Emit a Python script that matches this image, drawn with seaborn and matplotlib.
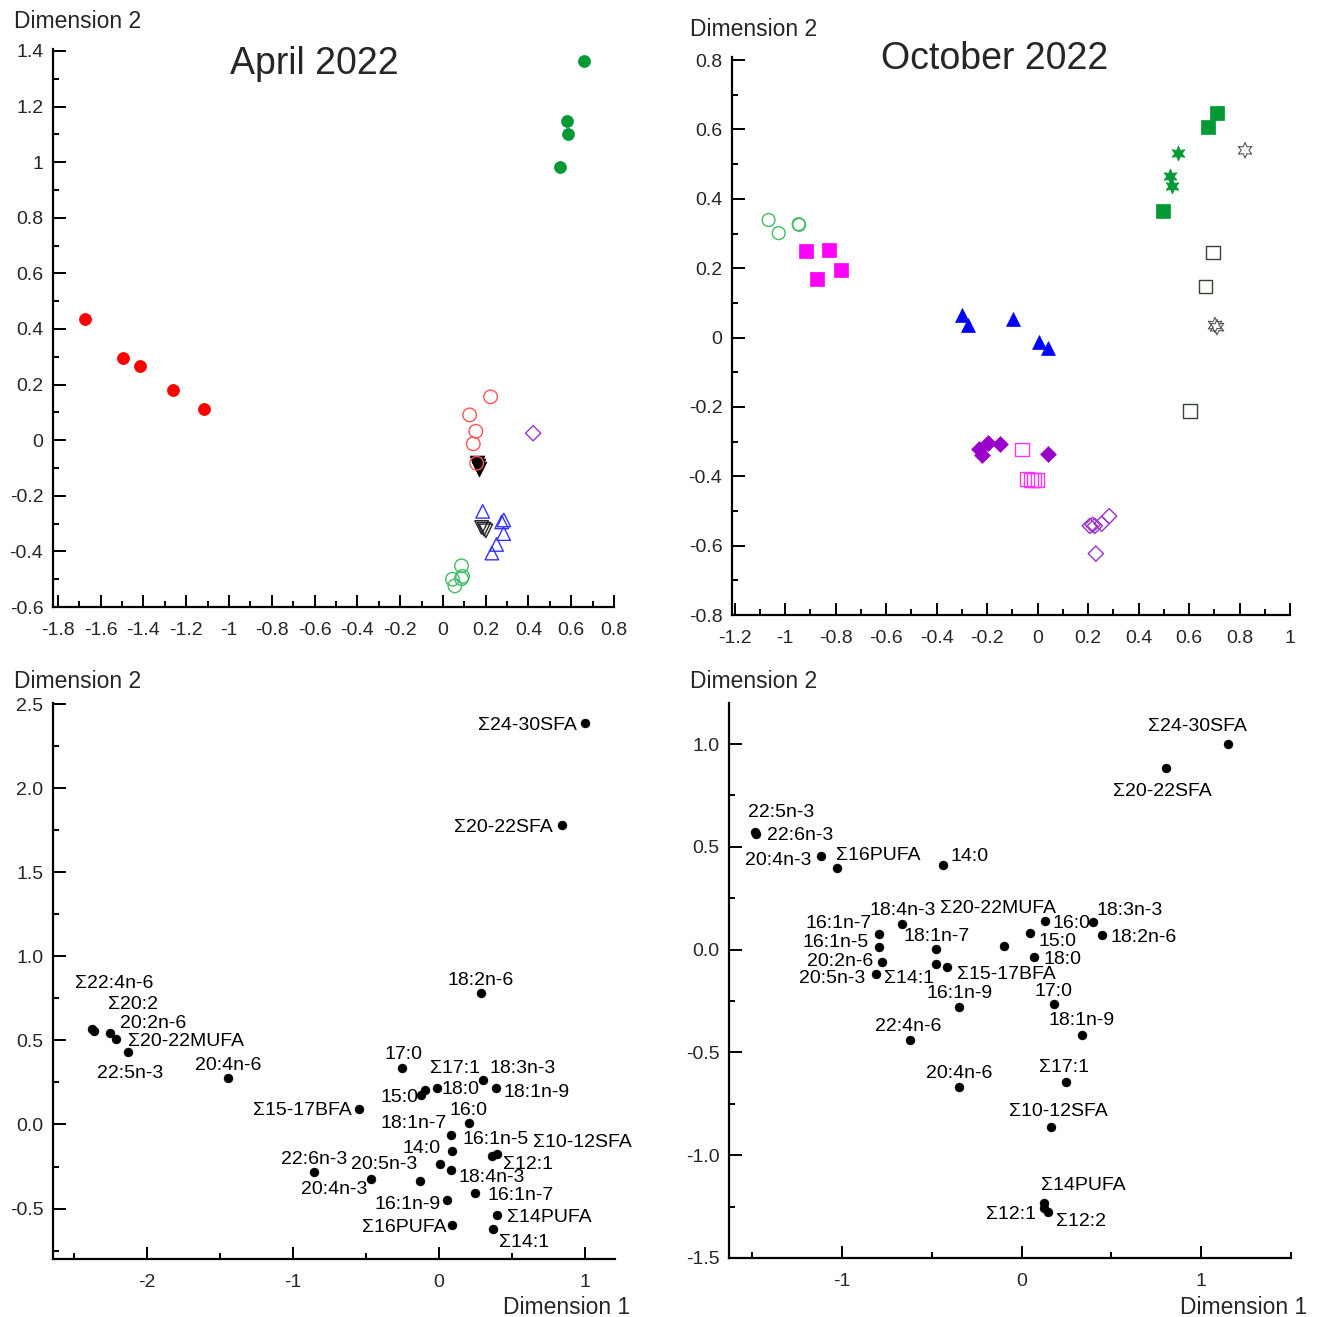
import numpy as np
import pandas as pd
import matplotlib
matplotlib.use("Agg")
import matplotlib.pyplot as plt
from matplotlib.ticker import MultipleLocator, FuncFormatter
import seaborn as sns

# ---------------- data: April 2022 (samples) ----------------
apr_red_x = [-1.674, -1.497, -1.417, -1.263, -1.118]
apr_red_y = [0.435, 0.295, 0.266, 0.180, 0.112]
apr_green_x = [0.659, 0.580, 0.585, 0.547]
apr_green_y = [1.363, 1.147, 1.101, 0.982]
apr_lred_x = [0.223, 0.125, 0.154, 0.142, 0.158]
apr_lred_y = [0.156, 0.091, 0.032, -0.013, -0.083]
apr_blk_tri_x = [0.158, 0.165, 0.168]
apr_blk_tri_y = [-0.083, -0.092, -0.104]
apr_purple_x = [0.422]
apr_purple_y = [0.025]
apr_blue_x = [0.186, 0.285, 0.275, 0.284, 0.251, 0.229]
apr_blue_y = [-0.256, -0.287, -0.294, -0.336, -0.375, -0.406]
apr_blk_open_x = [0.181, 0.192, 0.201]
apr_blk_open_y = [-0.314, -0.320, -0.326]
apr_lgreen_x = [0.087, 0.092, 0.045, 0.087, 0.056]
apr_lgreen_y = [-0.452, -0.490, -0.500, -0.498, -0.524]

# ---------------- data: October 2022 (samples) ----------------
oct_gsq_x = [0.711, 0.675, 0.497]
oct_gsq_y = [0.647, 0.606, 0.366]
oct_gstar_x = [0.556, 0.525, 0.533]
oct_gstar_y = [0.532, 0.465, 0.436]
oct_ostar_x = [0.822, 0.703, 0.711]
oct_ostar_y = [0.540, 0.036, 0.030]
oct_osq_x = [0.695, 0.664, 0.604]
oct_osq_y = [0.246, 0.148, -0.212]
oct_lgreen_x = [-1.065, -1.025, -0.946, -0.944]
oct_lgreen_y = [0.339, 0.301, 0.327, 0.325]
oct_msq_x = [-0.915, -0.824, -0.872, -0.777]
oct_msq_y = [0.249, 0.252, 0.169, 0.195]
oct_blue_x = [-0.300, -0.277, -0.097, 0.005, 0.041]
oct_blue_y = [0.065, 0.036, 0.053, -0.013, -0.030]
oct_pdia_x = [-0.233, -0.221, -0.198, -0.147, 0.040]
oct_pdia_y = [-0.322, -0.340, -0.303, -0.306, -0.335]
oct_mosq_x = [-0.062, -0.042, -0.026, -0.013, 0.000]
oct_mosq_y = [-0.323, -0.408, -0.410, -0.410, -0.410]
oct_podia_x = [0.207, 0.218, 0.227, 0.254, 0.284, 0.231]
oct_podia_y = [-0.543, -0.540, -0.543, -0.537, -0.515, -0.623]

# ---------------- data: April 2022 (fatty acids) ----------------
fa3_names = ["Σ24-30SFA", "Σ20-22SFA", "18:2n-6", "Σ22:4n-6", "Σ20:2", "20:2n-6",
             "Σ20-22MUFA", "22:5n-3", "20:4n-6", "17:0", "Σ17:1", "18:3n-3", "18:1n-9",
             "18:0", "15:0", "Σ15-17BFA", "16:0", "18:1n-7", "16:1n-5", "14:0",
             "Σ10-12SFA", "Σ12:1", "20:5n-3", "22:6n-3", "18:4n-3", "20:4n-3",
             "16:1n-7", "16:1n-9", "Σ14PUFA", "Σ16PUFA", "Σ14:1"]
fa3_x = [1.000, 0.842, 0.288, -2.375, -2.363, -2.253, -2.214, -2.128, -1.447, -0.251,
         -0.094, 0.300, 0.390, -0.015, -0.123, -0.548, 0.205, 0.080, 0.091, 0.007,
         0.395, 0.365, -0.130, -0.856, 0.082, -0.466, 0.247, 0.057, 0.395, 0.091, 0.372]
fa3_y = [2.387, 1.780, 0.780, 0.570, 0.557, 0.543, 0.508, 0.430, 0.274, 0.337,
         0.202, 0.266, 0.216, 0.216, 0.177, 0.093, 0.008, -0.060, -0.159, -0.234,
         -0.175, -0.190, -0.337, -0.280, -0.268, -0.323, -0.405, -0.452, -0.538, -0.597, -0.621]

# ---------------- data: October 2022 (fatty acids) ----------------
fa4_names = ["Σ24-30SFA", "Σ20-22SFA", "22:5n-3", "22:6n-3", "20:4n-3", "Σ16PUFA", "14:0",
             "18:4n-3", "Σ20-22MUFA", "16:1n-7", "18:1n-7", "16:0", "18:3n-3", "18:2n-6",
             "15:0", "16:1n-5", "18:0", "20:2n-6", "Σ15-17BFA", "Σ14:1", "20:5n-3",
             "16:1n-9", "17:0", "22:4n-6", "18:1n-9", "20:4n-6", "Σ17:1", "Σ10-12SFA",
             "Σ14PUFA", "Σ12:1", "Σ12:2"]
fa4_x = [1.148, 0.802, -1.487, -1.478, -1.120, -1.027, -0.438, -0.667, -0.100, -0.797,
         -0.475, 0.132, 0.397, 0.449, 0.045, -0.795, 0.071, -0.778, -0.416, -0.475,
         -0.813, -0.349, 0.180, -0.624, 0.334, -0.349, 0.249, 0.162, 0.123, 0.123, 0.145]
fa4_y = [1.002, 0.885, 0.571, 0.563, 0.457, 0.396, 0.412, 0.123, 0.019, 0.078,
         0.003, 0.141, 0.135, 0.071, 0.081, 0.013, -0.037, -0.062, -0.084, -0.068,
         -0.117, -0.281, -0.263, -0.441, -0.413, -0.670, -0.645, -0.861, -1.230, -1.255, -1.274]

# label placement (alignment, offset in pixels)
fa3_ha = ["right", "right", "center", "left", "left", "left", "left", "center", "center",
          "center", "left", "left", "left", "left", "right", "right", "center", "right",
          "left", "right", "left", "left", "right", "center", "left", "right", "left",
          "right", "left", "right", "left"]
fa3_dx = [-8, -9, 0, -17, 14, 10, 12, 2, 0, 1, 5, 7, 7, 5, -3, -7, 0, -4, 10, 1, 36, 11,
          -3, 0, 7, -4, 12, -7, 10, -6, 6]
fa3_dy = [0, 0, 15, 47, 28, 12, 0, -19, 15, 15, 24, 13, -2, 1, -1, 0, 15, 13, 14, 17, 13,
          -6, 19, 14, -6, -9, -1, -2, -1, -1, -12]
fa4_ha = ["center", "center", "left", "left", "right", "left", "left", "center", "center",
          "right", "center", "left", "left", "left", "left", "right", "left", "right",
          "left", "right", "right", "center", "center", "center", "center", "center",
          "center", "center", "left", "right", "left"]
fa4_dx = [-30, -3, -7, 11, -9, -1, 7, 1, -6, -7, 0, 7, 4, 8, 9, -10, 9, -9, 10, -2, -10,
          1, 0, -1, 0, 0, -2, 8, -3, -8, 8]
fa4_dy = [19, -22, 22, 0, -3, 15, 10, 16, 39, 12, 15, -1, 13, 0, -6, 6, 0, 3, -6, -13, -3,
          16, 14, 16, 16, 16, 17, 17, 19, -5, -8]

# ---------------- styling ----------------
sns.set_theme(style="white")
plt.rcParams["font.family"] = ["Liberation Sans", "DejaVu Sans"]

W, H = 1318, 1317
fig = plt.figure(figsize=(W / 100, H / 100), dpi=100)


def make_ax(l, r, b, t):
    return fig.add_axes([l / W, 1 - b / H, (r - l) / W, (b - t) / H])


ax1 = make_ax(53, 614, 607, 49)
ax2 = make_ax(732, 1290, 615, 57)
ax3 = make_ax(53, 615, 1259, 703)
ax4 = make_ax(729, 1291, 1258, 703)

TICK_FS = 14


def gfmt(v, pos):
    v = round(v, 6)
    if abs(v) < 1e-9:
        v = 0.0
    return f"{v:g}"


def ffmt(v, pos):
    v = round(v, 6)
    if abs(v) < 1e-9:
        v = 0.0
    return f"{v:.1f}"


def style_ax(ax, xlim, ylim, xmaj, xmin, ymaj, ymin, xf, yf):
    ax.set_xlim(*xlim)
    ax.set_ylim(*ylim)
    ax.xaxis.set_major_locator(MultipleLocator(xmaj))
    ax.xaxis.set_minor_locator(MultipleLocator(xmin))
    ax.yaxis.set_major_locator(MultipleLocator(ymaj))
    ax.yaxis.set_minor_locator(MultipleLocator(ymin))
    ax.xaxis.set_major_formatter(FuncFormatter(xf))
    ax.yaxis.set_major_formatter(FuncFormatter(yf))
    for s in ["top", "right"]:
        ax.spines[s].set_visible(False)
    for s in ["left", "bottom"]:
        ax.spines[s].set_visible(True)
        ax.spines[s].set_linewidth(1.6)
        ax.spines[s].set_color("black")
    ax.tick_params(which="both", direction="in", color="black", width=1.4,
                   bottom=True, left=True, top=False, right=False)
    ax.tick_params(which="major", length=9)
    ax.tick_params(which="minor", length=4.5)
    ax.tick_params(axis="x", which="major", labelsize=TICK_FS, pad=11)
    ax.tick_params(axis="y", which="major", labelsize=TICK_FS, pad=7)
    ax.set_xlabel("")
    ax.set_ylabel("")
    ax.grid(False)
    ax.set_facecolor("white")


def pts(ax, xs, ys, marker, s, color, filled=True, lw=1.0, z=3):
    df = pd.DataFrame({"x": xs, "y": ys})
    if filled:
        sns.scatterplot(data=df, x="x", y="y", ax=ax, marker=marker, s=s, color=color,
                        edgecolor=color, linewidth=0.5, zorder=z, legend=False)
    else:
        sns.scatterplot(data=df, x="x", y="y", ax=ax, marker=marker, s=s, color=color,
                        facecolor="none", edgecolor=color, linewidth=lw, zorder=z,
                        legend=False)


# Panel 1 - April 2022
pts(ax1, apr_red_x, apr_red_y, "o", 75, "#FF0000")
pts(ax1, apr_green_x, apr_green_y, "o", 75, "#009933")
pts(ax1, apr_blk_tri_x, apr_blk_tri_y, "v", 115, "#000000")
pts(ax1, apr_lred_x, apr_lred_y, "o", 95, "#FF5555", filled=False, z=4)
pts(ax1, apr_purple_x, apr_purple_y, "D", 60, "#9933CC", filled=False)
pts(ax1, apr_blue_x, apr_blue_y, "^", 95, "#3333FF", filled=False)
pts(ax1, apr_blk_open_x, apr_blk_open_y, "v", 95, "#222222", filled=False)
pts(ax1, apr_lgreen_x, apr_lgreen_y, "o", 95, "#44BB66", filled=False)
style_ax(ax1, (-1.823, 0.8), (-0.6, 1.407), 0.2, 0.1, 0.2, 0.1, gfmt, gfmt)

# Panel 2 - October 2022
pts(ax2, oct_gsq_x, oct_gsq_y, "s", 90, "#009933")
pts(ax2, oct_gstar_x, oct_gstar_y, (6, 1, 0), 115, "#009933")
pts(ax2, oct_ostar_x, oct_ostar_y, (6, 1, 0), 125, "#555555", filled=False, lw=0.8)
pts(ax2, oct_osq_x, oct_osq_y, "s", 90, "#334433", filled=False)
pts(ax2, oct_lgreen_x, oct_lgreen_y, "o", 85, "#44BB66", filled=False)
pts(ax2, oct_msq_x, oct_msq_y, "s", 90, "#FF00FF")
pts(ax2, oct_blue_x, oct_blue_y, "^", 100, "#0000FF")
pts(ax2, oct_pdia_x, oct_pdia_y, "D", 65, "#9900CC")
pts(ax2, oct_mosq_x, oct_mosq_y, "s", 95, "#FF33FF", filled=False)
pts(ax2, oct_podia_x, oct_podia_y, "D", 60, "#9933CC", filled=False)
style_ax(ax2, (-1.21, 1.0), (-0.8, 0.809), 0.2, 0.1, 0.2, 0.1, gfmt, gfmt)

# Panels 3 and 4 - fatty acids
LAB_FS = 14
for ax, names, xs, ys, has, dxs, dys in [
        (ax3, fa3_names, fa3_x, fa3_y, fa3_ha, fa3_dx, fa3_dy),
        (ax4, fa4_names, fa4_x, fa4_y, fa4_ha, fa4_dx, fa4_dy)]:
    df = pd.DataFrame({"x": xs, "y": ys, "name": names})
    sns.scatterplot(data=df, x="x", y="y", ax=ax, marker="o", s=42, color="black",
                    edgecolor="black", linewidth=0.3, zorder=3, legend=False)
    for n, x, y, ha, dx, dy in zip(names, xs, ys, has, dxs, dys):
        ax.annotate(n, (x, y), xytext=(dx, dy - 2), textcoords="offset pixels",
                    ha=ha, va="center", fontsize=LAB_FS, color="black")

style_ax(ax3, (-2.644, 1.205), (-0.8, 2.506), 1, 0.5, 0.5, 0.25, gfmt, ffmt)
style_ax(ax4, (-1.63, 1.5), (-1.5, 1.2), 1, 0.5, 0.5, 0.25, gfmt, ffmt)

# figure texts
AX_FS = 16.5
for (px, py) in [(14, 22), (690, 29), (14, 682), (690, 682)]:
    fig.text(px / W, 1 - py / H, "Dimension 2", ha="left", va="center", fontsize=AX_FS)
for px in [630, 1307]:
    fig.text(px / W, 1 - 1308 / H, "Dimension 1", ha="right", va="center", fontsize=AX_FS)
fig.text(314 / W, 1 - 64 / H, "April 2022", ha="center", va="center", fontsize=27)
fig.text(995 / W, 1 - 59 / H, "October 2022", ha="center", va="center", fontsize=27)

fig.savefig("out.png", dpi=100, facecolor="white")
